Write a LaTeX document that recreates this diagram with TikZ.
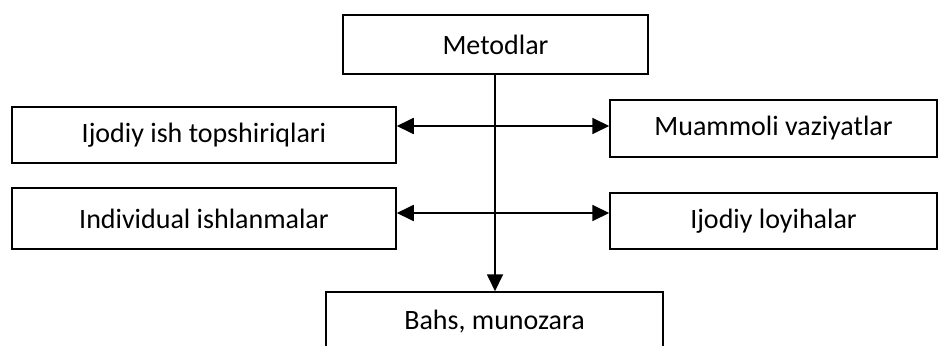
\documentclass[tikz,border=0pt]{standalone}
\usepackage{fontspec}
\setmainfont{Carlito}
\usetikzlibrary{arrows.meta}
\begin{document}
\begin{tikzpicture}[x=1pt,y=-1pt,
  box/.style={draw,line width=1.5pt,inner sep=0pt,font=\fontsize{28}{32}\selectfont},
  conn/.style={line width=1.8pt},
  hd/.tip={Triangle[length=17pt,width=16pt]}]
\useasboundingbox (0,0) rectangle (949,345);
\clip (0,0) rectangle (949,345);
\node[box,minimum width=305pt,minimum height=59pt] (met) at (495.5,44.5) {Metodlar};
\node[box,minimum width=384pt,minimum height=56pt] (ijs) at (204,135) {Ijodiy ish topshiriqlari};
\node[box,minimum width=327pt,minimum height=57pt] (mua) at (773.5,128.5) {Muammoli vaziyatlar};
\node[box,minimum width=384pt,minimum height=61pt] (ind) at (204,218.5) {Individual ishlanmalar};
\node[box,minimum width=327pt,minimum height=56pt] (ijl) at (773.5,221) {Ijodiy loyihalar};
\node[box,minimum width=337pt,minimum height=60pt] (bah) at (494.5,322) {Bahs, munozara};
\coordinate (r1) at (495,126);
\coordinate (r2) at (495,213);
\draw[conn,-hd] (met.south -| r1) -- (bah.north -| r1);
\draw[conn,hd-hd] (ijs.east |- r1) -- (mua.west |- r1);
\draw[conn,hd-hd] (ind.east |- r2) -- (ijl.west |- r2);
\end{tikzpicture}
\end{document}
